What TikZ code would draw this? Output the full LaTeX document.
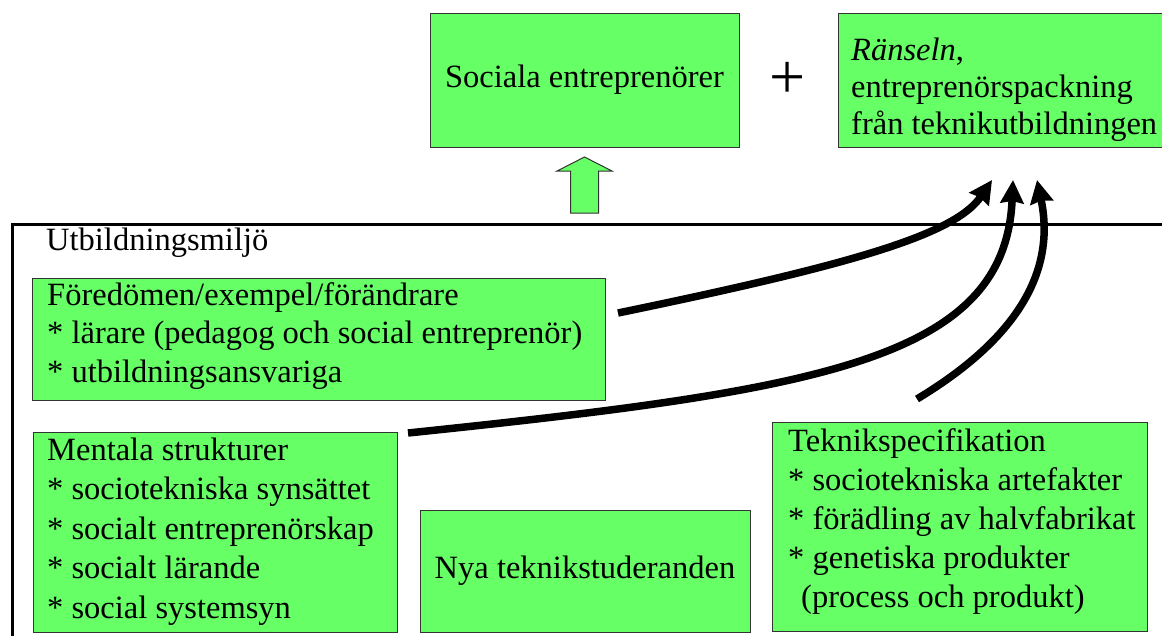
\documentclass[tikz,border=0pt]{standalone}
\usepackage{fontspec}
\setmainfont{LiberationSerif}[Extension=.ttf, UprightFont=*-Regular, ItalicFont=*-Italic, BoldFont=*-Bold, BoldItalicFont=*-BoldItalic]
\usetikzlibrary{arrows.meta}
\definecolor{boxgreen}{HTML}{66FF66}
\begin{document}
\begin{tikzpicture}[x=1pt,y=-1pt,
  gbox/.style={draw=black!80, line width=1pt, fill=boxgreen, inner sep=0pt, rectangle},
  txt/.style={inner sep=0pt, anchor=base west},
  bigarrow/.style={line width=7.5pt, -{Stealth[length=23pt,width=23pt,inset=2pt]}},
]
\useasboundingbox (0,0) rectangle (1162,635);

% top boxes
\node[gbox, minimum width=309pt, minimum height=134pt,
      font=\fontsize{32.5}{38}\selectfont] (soc) at (584.5,80) {Sociala entreprenörer};
\node[gbox, minimum width=340pt, minimum height=134pt] (ran) at (1008,80) {};
\node[txt, font=\fontsize{32.5}{37}\selectfont] (rantxt) at (851,60)
  {\begin{tabular}[t]{@{}l@{}}\textit{Ränseln},\\{}entreprenörspackning\\{}från teknikutbildningen\end{tabular}};
\node[inner sep=0pt, font=\fontsize{64}{68}\selectfont] (plus) at (787.5,80) {+};

% green up arrow
\draw[draw=black!80, line width=1pt, fill=boxgreen]
  (570.5,213) -- (570.5,171) -- (557,171) -- (584.5,157) -- (612,171) -- (598.5,171) -- (598.5,213) -- cycle;

% environment frame
\node[draw, line width=2.5pt, inner sep=0pt, minimum width=1200pt, minimum height=450pt,
      anchor=north west] (env) at (11,223) {};
\node[txt, font=\fontsize{32.5}{38}\selectfont] (envlabel) at (46,250) {Utbildningsmiljö};

% inner boxes
\node[gbox, minimum width=573pt, minimum height=122pt] (fore) at (318.5,339) {};
\node[txt, font=\fontsize{32.5}{38.5}\selectfont] (foretxt) at (47,305)
  {\begin{tabular}[t]{@{}l@{}}Föredömen/exempel/förändrare\\{}* lärare (pedagog och social entreprenör)\\{}* utbildningsansvariga\end{tabular}};

\node[gbox, minimum width=364pt, minimum height=200pt] (ment) at (215,532) {};
\node[txt, font=\fontsize{32.5}{39.5}\selectfont] (menttxt) at (47,460)
  {\begin{tabular}[t]{@{}l@{}}Mentala strukturer\\{}* sociotekniska synsättet\\{}* socialt entreprenörskap\\{}* socialt lärande\\{}* social systemsyn\end{tabular}};

\node[gbox, minimum width=330pt, minimum height=122pt,
      font=\fontsize{32.5}{38}\selectfont] (nya) at (585,571) {Nya teknikstuderanden};

\node[gbox, minimum width=375pt, minimum height=209pt] (tek) at (959.5,526.5) {};
\node[txt, font=\fontsize{32.5}{39.2}\selectfont] (tektxt) at (788,451)
  {\begin{tabular}[t]{@{}l@{}}Teknikspecifikation\\{}* sociotekniska artefakter\\{}* förädling av halvfabrikat\\{}* genetiska produkter\\{}\hspace{13pt}(process och produkt)\end{tabular}};

% connector ends
\coordinate (a1s) at (618,313);
\coordinate (a1e) at (992,180);
\coordinate (a2s) at (408,433);
\coordinate (a2e) at (1013,180);
\coordinate (a3s) at (917,399);
\coordinate (a3e) at (1037,180);

\draw[bigarrow] (a1s) .. controls (850,265) and (955,235) .. (a1e);
\draw[bigarrow] (a2s) .. controls (820,390) and (1005,360) .. (a2e);
\draw[bigarrow] (a3s) .. controls (990,355) and (1060,290) .. (a3e);
\end{tikzpicture}
\end{document}
